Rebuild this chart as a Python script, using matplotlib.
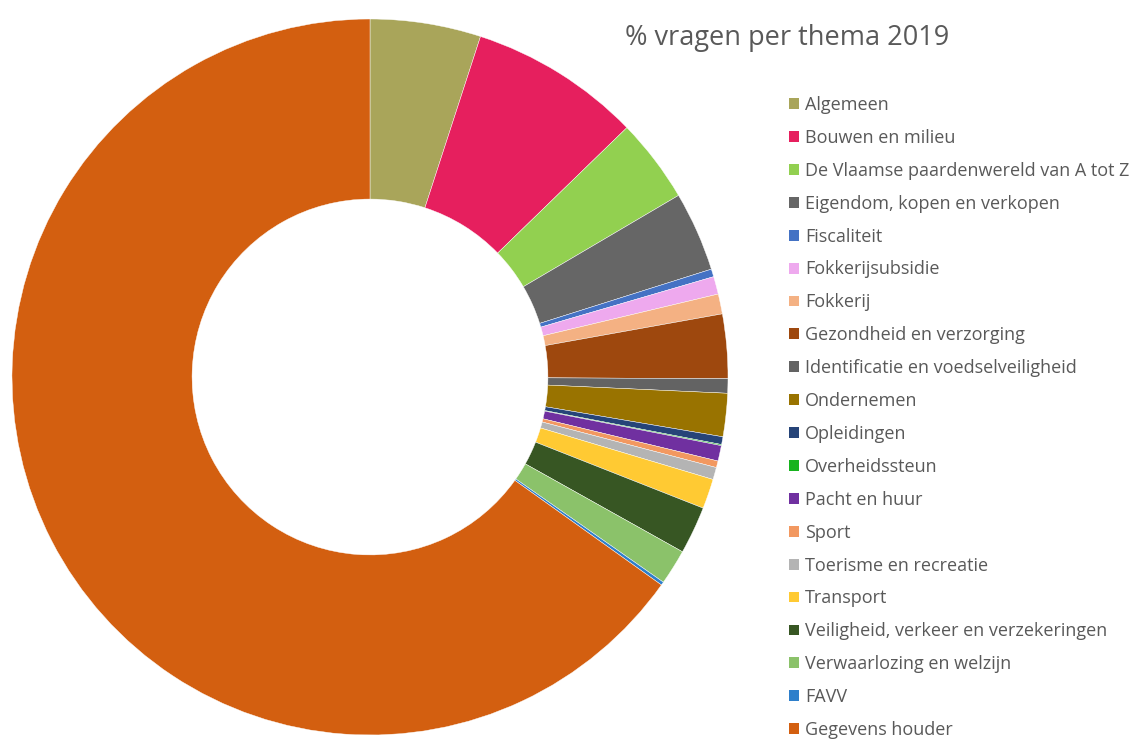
import matplotlib
matplotlib.use('Agg')
from matplotlib import pyplot as plt
from matplotlib.patches import Patch

labels = ['Algemeen', 'Bouwen en milieu', 'De Vlaamse paardenwereld van A tot Z',
          'Eigendom, kopen en verkopen', 'Fiscaliteit', 'Fokkerijsubsidie', 'Fokkerij',
          'Gezondheid en verzorging', 'Identificatie en voedselveiligheid', 'Ondernemen',
          'Opleidingen', 'Overheidssteun', 'Pacht en huur', 'Sport',
          'Toerisme en recreatie', 'Transport', 'Veiligheid, verkeer en verzekeringen',
          'Verwaarlozing en welzijn', 'FAVV', 'Gegevens houder']
values = [5.0, 7.75, 3.8, 3.6, 0.35, 0.8, 0.9, 2.9, 0.65, 1.95,
          0.35, 0.05, 0.7, 0.3, 0.55, 1.35, 2.15, 1.6, 0.15, 65.2]
colors = ['#A9A55A', '#E61F5E', '#92D050', '#666666', '#4472C4', '#EEA9EE', '#F4B183',
          '#9E480E', '#636363', '#997300', '#264478', '#17B31E', '#7030A0', '#F29860',
          '#B4B4B4', '#FFCA33', '#375623', '#8BC26A', '#2E7FCB', '#D35F10']

plt.rcParams['font.family'] = ['Open Sans', 'DejaVu Sans']
W, H = 1138, 739
fig = plt.figure(figsize=(W / 100, H / 100), dpi=100)

# donut: centre (370, 377), outer radius 358 px
cx, cy, r = 370, 377, 358
ax = fig.add_axes([(cx - r) / W, 1 - (cy + r) / H, 2 * r / W, 2 * r / H])
ax.pie(values, colors=colors, startangle=90, counterclock=False, radius=1,
       wedgeprops=dict(width=0.503, edgecolor='white', linewidth=0.3))
ax.set_xlim(-1, 1)
ax.set_ylim(-1, 1)
ax.set_aspect('equal')
ax.axis('off')

fig.text(787 / W, 1 - 38 / H, '% vragen per thema 2019', ha='center', va='center',
         fontsize=19.5, color='#595959')

handles = [Patch(facecolor=c, edgecolor='none') for c in colors]
fig.legend(handles, labels, loc='upper left', bbox_to_anchor=(789 / W, 1 - 96 / H),
           frameon=False, fontsize=13, labelcolor='#595959', handlelength=0.55,
           handleheight=0.55, handletextpad=0.35, labelspacing=0.825, borderpad=0,
           borderaxespad=0)

fig.savefig('out.png', dpi=100)
